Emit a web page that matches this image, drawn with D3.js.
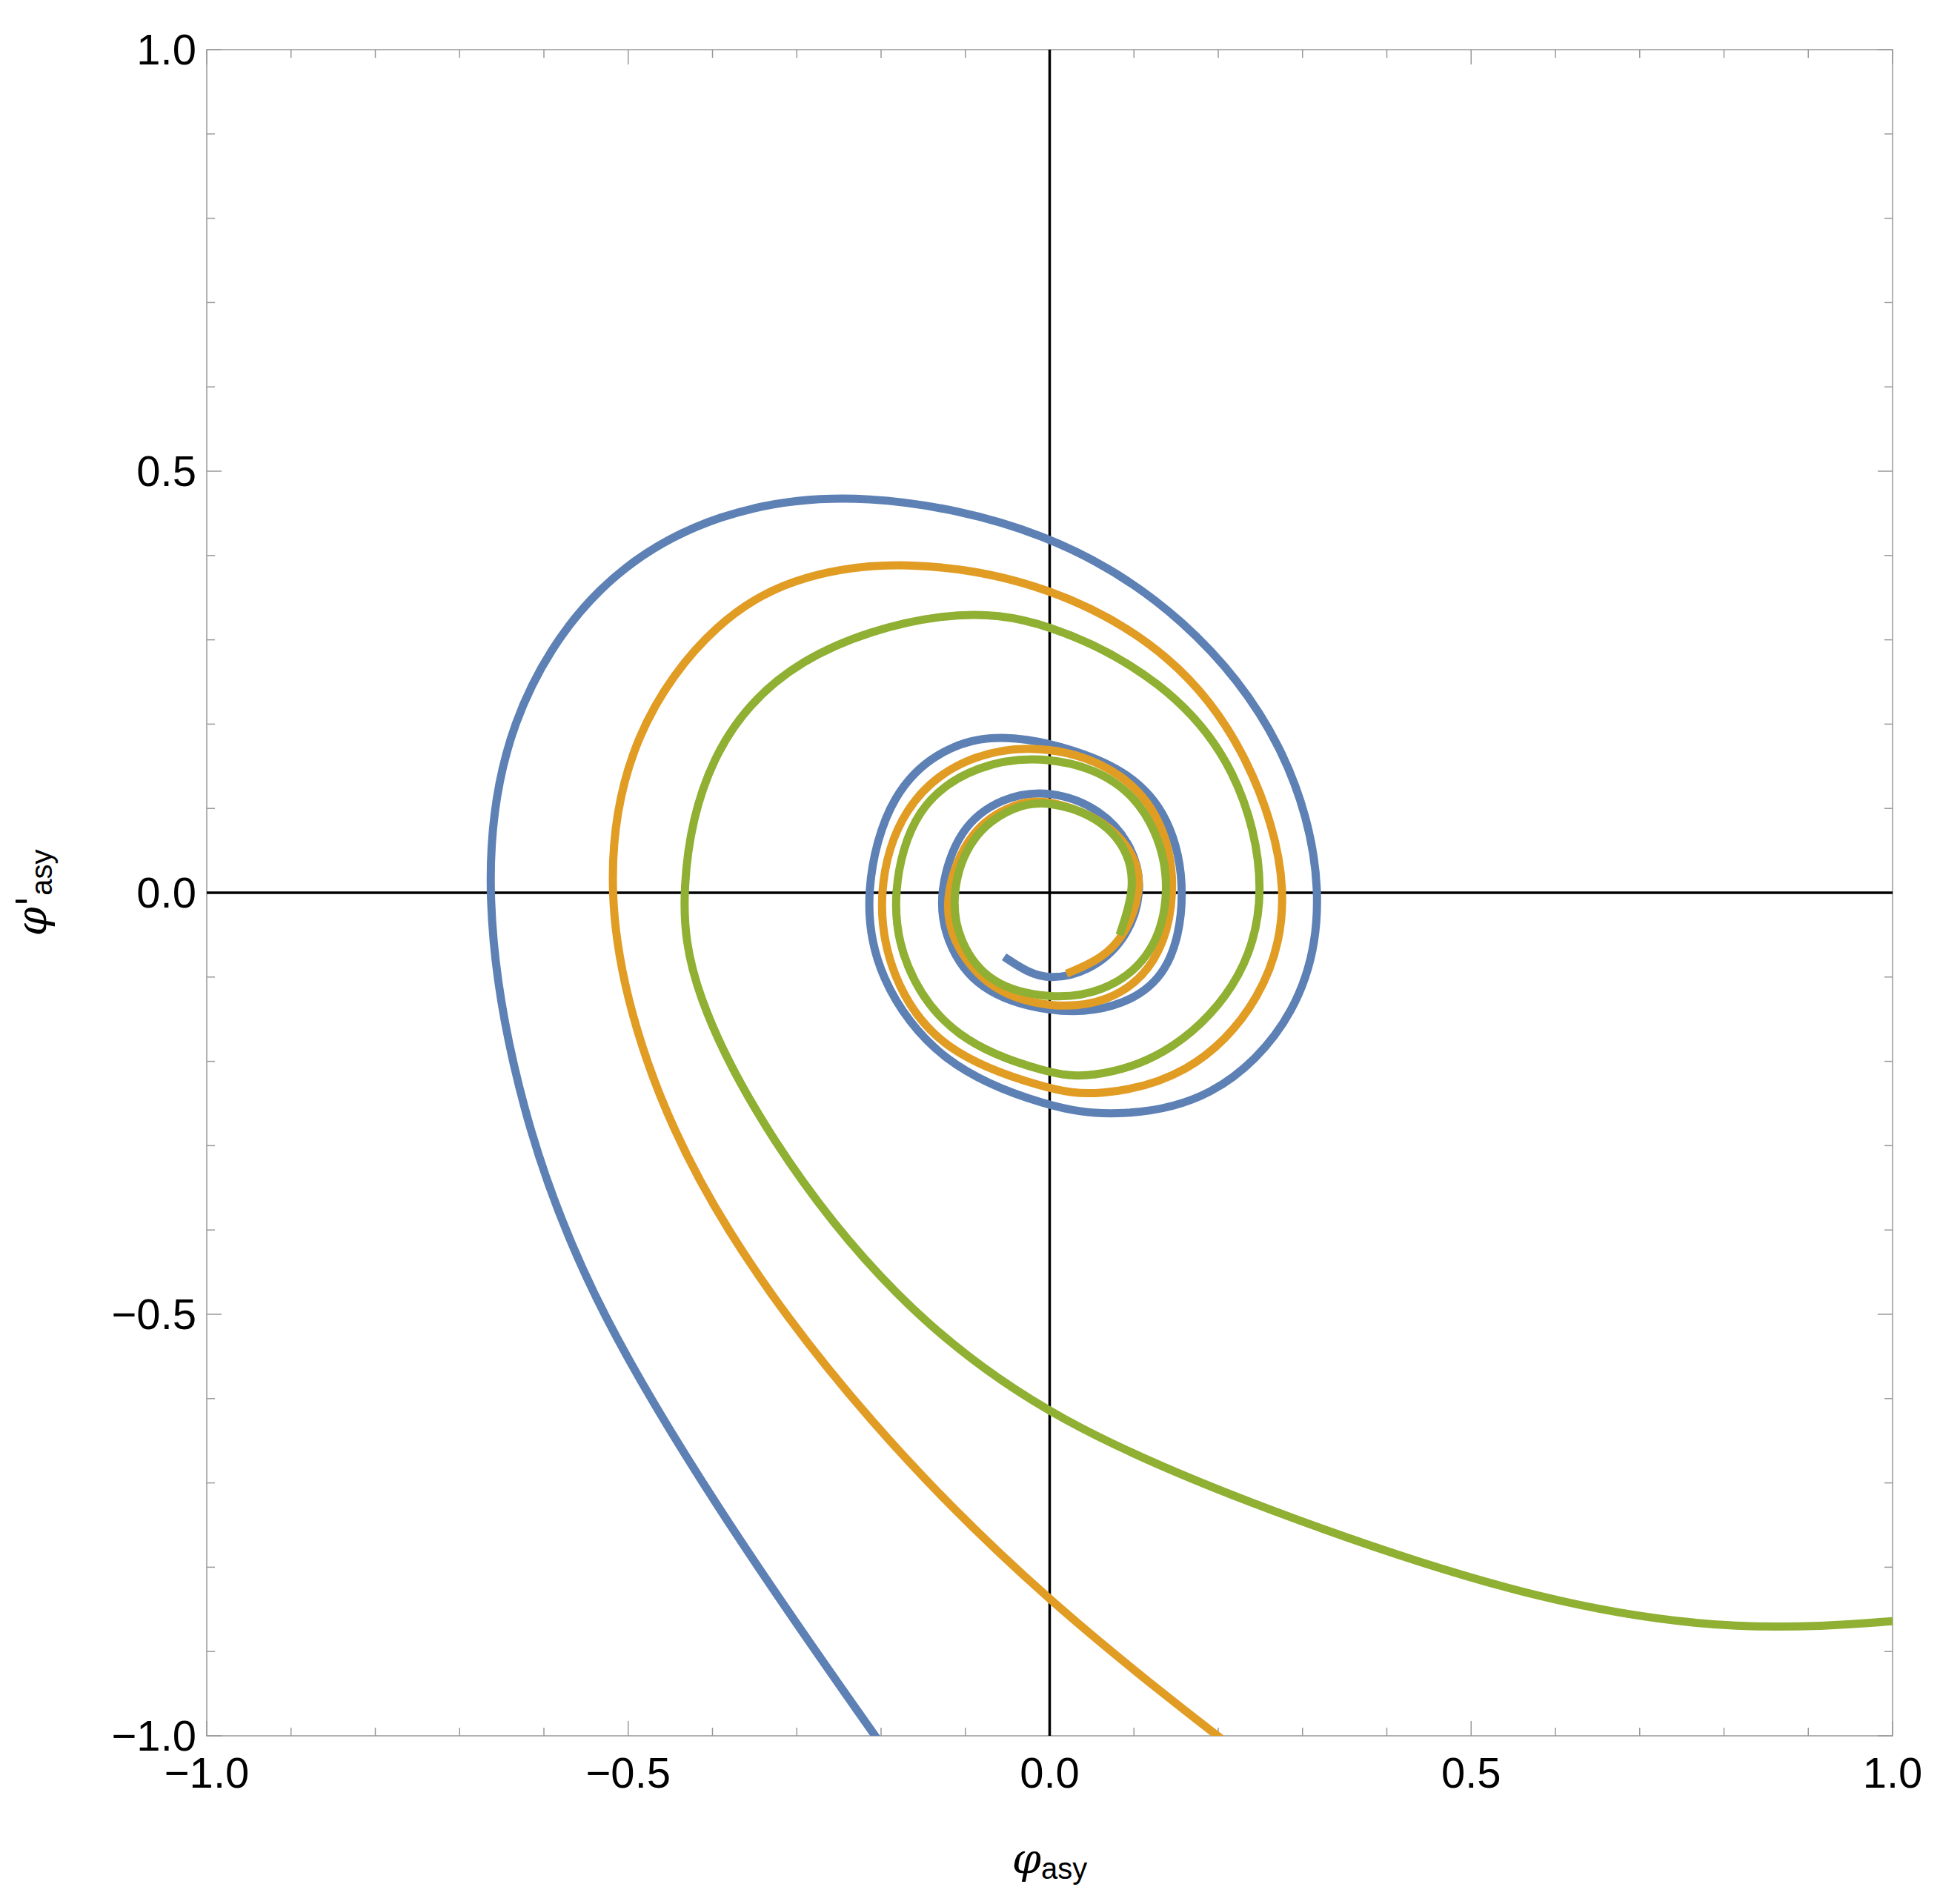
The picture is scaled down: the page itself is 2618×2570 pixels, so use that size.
<!DOCTYPE html><html><head><meta charset="utf-8"><script src="https://cdn.jsdelivr.net/npm/d3@7"></script>
<style>body{margin:0;background:#fff}text{font-family:"Liberation Sans",Arial,sans-serif}</style></head><body>
<svg id="c" width="2618" height="2570"></svg>
<script>
const blue=[[-0.2,-1.01],[-0.365,-0.776],[-0.54,-0.497],[-0.63,-0.26],[-0.675,0],[-0.646,0.208],[-0.54,0.372],[-0.394,0.455],[-0.222,0.478],[0,0.432],[0.164,0.328],[0.283,0.178],[0.33,0],[0.298,-0.147],[0.193,-0.25],[0.073,-0.266],[0,-0.255],[-0.13,-0.206],[-0.206,-0.1],[-0.221,0],[-0.19,0.122],[-0.115,0.181],[-0.034,0.189],[0.09,0.151],[0.144,0.09],[0.163,0],[0.144,-0.1],[0.076,-0.14],[0,-0.143],[-0.086,-0.117],[-0.124,-0.057],[-0.132,0],[-0.108,0.077],[-0.056,0.114],[0,0.122],[0.061,0.1],[0.1,0.054],[0.111,0],[0.09,-0.058],[0.046,-0.094],[0,-0.103],[-0.027,-0.094],[-0.054,-0.076]];
const orange=[[0.212,-1.01],[0,-0.845],[-0.218,-0.629],[-0.394,-0.394],[-0.484,-0.203],[-0.531,0],[-0.499,0.192],[-0.394,0.328],[-0.291,0.38],[-0.163,0.395],[0,0.367],[0.149,0.284],[0.239,0.163],[0.29,0],[0.254,-0.13],[0.164,-0.22],[0.054,-0.242],[0,-0.234],[-0.13,-0.19],[-0.19,-0.1],[-0.206,0],[-0.176,0.104],[-0.1,0.165],[0,0.177],[0.09,0.143],[0.137,0.082],[0.151,0],[0.129,-0.087],[0.069,-0.132],[0,-0.137],[-0.071,-0.117],[-0.118,-0.057],[-0.125,0],[-0.095,0.075],[-0.042,0.107],[0,0.111],[0.069,0.085],[0.105,0.039],[0.108,0],[0.09,-0.05],[0.061,-0.079],[0.02,-0.096]];
const green=[[1.0,-0.864],[0.824,-0.877],[0.589,-0.844],[0.296,-0.748],[0,-0.629],[-0.188,-0.482],[-0.335,-0.292],[-0.425,-0.116],[-0.44,0],[-0.41,0.163],[-0.306,0.284],[-0.118,0.339],[0,0.322],[0.135,0.253],[0.225,0.149],[0.261,0],[0.225,-0.116],[0.135,-0.198],[0.046,-0.22],[0,-0.215],[-0.115,-0.176],[-0.176,-0.087],[-0.188,0],[-0.161,0.104],[-0.085,0.154],[0,0.163],[0.084,0.136],[0.129,0.075],[0.144,0],[0.122,-0.079],[0.061,-0.12],[0,-0.126],[-0.071,-0.11],[-0.109,-0.057],[-0.117,0],[-0.095,0.068],[-0.042,0.104],[0,0.109],[0.061,0.089],[0.096,0.046],[0.1,0],[0.083,-0.05]];
const majorTicks=[-1,-0.5,0,0.5,1];
const tickLabels=["\u22121.0","\u22120.5","0.0","0.5","1.0"];
const minorTicks=d3.range(-10,11).map(i=>i/10);

const L=279,R=2554,T=67,B=2343;
const x=d3.scaleLinear([-1,1],[L,R]), y=d3.scaleLinear([-1,1],[B,T]);
const svg=d3.select("#c");
svg.append("clipPath").attr("id","cp").append("rect").attr("x",L).attr("y",T).attr("width",R-L).attr("height",B-T);
const g=svg.append("g");
g.append("rect").attr("x",L).attr("y",T).attr("width",R-L).attr("height",B-T).attr("fill","none").attr("stroke","#999").attr("stroke-width",1.5);
const tk=g.append("g").attr("stroke","#999").attr("stroke-width",1.5);
minorTicks.forEach(v=>{
  const len=majorTicks.some(m=>Math.abs(m-v)<1e-9)?20:11;
  tk.append("line").attr("x1",x(v)).attr("x2",x(v)).attr("y1",B).attr("y2",B-len);
  tk.append("line").attr("x1",x(v)).attr("x2",x(v)).attr("y1",T).attr("y2",T+len);
  tk.append("line").attr("y1",y(v)).attr("y2",y(v)).attr("x1",L).attr("x2",L+len);
  tk.append("line").attr("y1",y(v)).attr("y2",y(v)).attr("x1",R).attr("x2",R-len);
});
majorTicks.forEach((v,i)=>{
  g.append("text").attr("x",x(v)).attr("y",B+70).attr("text-anchor","middle").attr("font-size",58).text(tickLabels[i]);
  g.append("text").attr("x",L-14).attr("y",y(v)+20).attr("text-anchor","end").attr("font-size",58).text(tickLabels[i]);
});
g.append("line").attr("x1",L).attr("x2",R).attr("y1",y(0)).attr("y2",y(0)).attr("stroke","#000").attr("stroke-width",3.5);
g.append("line").attr("y1",T).attr("y2",B).attr("x1",x(0)).attr("x2",x(0)).attr("stroke","#000").attr("stroke-width",3.5);
const line=d3.line().x(d=>x(d[0])).y(d=>y(d[1])).curve(d3.curveBasis);
const cg=g.append("g").attr("clip-path","url(#cp)");
[[blue,"#5E81B5"],[orange,"#E19C24"],[green,"#8FB032"]].forEach(([d,c])=>{
  cg.append("path").attr("d",line(d)).attr("fill","none").attr("stroke",c).attr("stroke-width",11).attr("stroke-linejoin","round");
});
const xl=svg.append("text").attr("x",x(0)).attr("y",2528).attr("text-anchor","middle").attr("font-size",56);
xl.append("tspan").attr("font-style","italic").attr("font-family","DejaVu Serif").text("\u03C6");
xl.append("tspan").attr("font-size",40).attr("dy",8).text("asy");
const yl=svg.append("text").attr("transform",`translate(62,${y(0)}) rotate(-90)`).attr("text-anchor","middle").attr("font-size",56);
yl.append("tspan").attr("font-style","italic").attr("font-family","DejaVu Serif").text("\u03C6'");
yl.append("tspan").attr("font-size",40).attr("dy",8).text("asy");
</script></body></html>
